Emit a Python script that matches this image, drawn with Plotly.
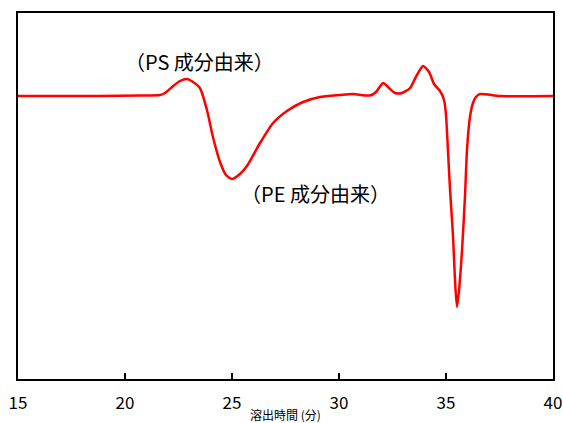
import plotly.graph_objects as go

# Elution time (min)
time_min = [15.00, 16.96, 18.83, 20.70, 21.64, 21.87, 22.20, 22.57, 22.90, 23.18, 23.50,
            23.83, 24.11, 24.44, 24.72, 25.00, 25.37, 25.70, 26.31, 26.92, 27.57, 28.32,
            29.11, 30.05, 30.65, 31.45, 31.73, 32.06, 32.34, 32.62, 32.94, 33.32, 33.64,
            33.93, 34.21, 34.44, 34.72, 34.91, 35.00, 35.09, 35.19, 35.33, 35.42, 35.51,
            35.61, 35.75, 35.89, 35.98, 36.12, 36.26, 36.40, 36.59, 37.52, 40.00]
# Detector signal (arbitrary units)
signal = [0, 0, 0, 0.5, 1, 3, 9, 15, 17, 14, 8,
          -14, -41, -66, -79, -83, -78, -70, -47, -27, -15, -6,
          -1, 1, 2, 0.5, 4, 13, 8, 3, 3, 8, 21,
          30, 24, 12, 5, -4, -19, -54, -94, -141, -184, -211,
          -194, -154, -99, -54, -21, -7, -1, 2, 0, 0]

x_ticks = [15, 20, 25, 30, 35, 40]
labels = ["（PS 成分由来）", "（PE 成分由来）"]
label_x = [23.5, 28.9]
label_y = [35, -97]

font = "Noto Sans CJK JP, DejaVu Sans, sans-serif"

fig = go.Figure()
fig.add_trace(go.Scatter(x=time_min, y=signal, mode="lines",
                         line=dict(color="#ff0000", width=2.5, shape="spline", smoothing=0.6),
                         showlegend=False, hoverinfo="skip"))

for t, xx, yy in zip(labels, label_x, label_y):
    fig.add_annotation(x=xx, y=yy, text=t, showarrow=False,
                       font=dict(size=20, color="black", family=font))

fig.add_annotation(x=0.5, y=-0.096, xref="paper", yref="paper", text="溶出時間 (分)",
                   showarrow=False, yanchor="middle", font=dict(size=12, color="black", family=font))

fig.update_layout(
    width=563, height=423,
    margin=dict(l=18, r=10, t=13, b=44),
    paper_bgcolor="white", plot_bgcolor="white",
    font=dict(family=font, color="black"),
    xaxis=dict(range=[15, 40], tickvals=x_ticks, ticks="inside", ticklen=6, tickwidth=2,
               tickcolor="black", showgrid=False, zeroline=False, showline=True,
               linecolor="black", linewidth=2, mirror=True, automargin=False,
               ticklabeloverflow="allow",
               tickfont=dict(size=17, color="black", family=font), ticklabelstandoff=8),
    yaxis=dict(range=[-283, 83], showticklabels=False, ticks="", showgrid=False,
               zeroline=False, showline=True, linecolor="black", linewidth=2, mirror=True,
               automargin=False),
)

# remove the default page margin so the figure fills the window exactly
fig.write_html("out.html", config={"displayModeBar": False},
               post_script="document.body.style.margin='0';document.body.style.overflow='hidden';")
